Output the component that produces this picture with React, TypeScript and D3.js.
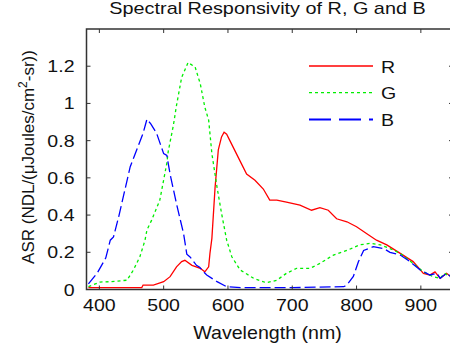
import React from "react";
import * as d3 from "d3";

const title = "Spectral Responsivity of R, G and B";
const xLabel = "Wavelength (nm)";
const xTicks = [400, 500, 600, 700, 800, 900];
const yTicks = [0, 0.2, 0.4, 0.6, 0.8, 1, 1.2];
const yTickLabels = ["0", "0.2", "0.4", "0.6", "0.8", "1", "1.2"];

const rWave = [383,400,420,440,460,466,468,484,500,510,520,528,533,544,557,564,570,572,575,580,585,590,594,598,603,616,629,642,655,665,676,691,712,730,743,756,769,785,800,816,831,847,868,888,904,914,922,930,940,950];
const rVals = [0.01,0.01,0.01,0.01,0.01,0.01,0.024,0.024,0.042,0.069,0.122,0.15,0.157,0.13,0.114,0.095,0.122,0.194,0.275,0.55,0.75,0.82,0.845,0.835,0.80,0.71,0.62,0.587,0.54,0.48,0.48,0.47,0.453,0.426,0.44,0.426,0.38,0.364,0.337,0.30,0.265,0.24,0.194,0.15,0.087,0.078,0.095,0.06,0.087,0.06];

const gWave = [383,401,417,443,453,463,471,474,481,494,505,507,515,520,528,538,549,557,564,570,575,583,590,598,606,619,640,660,676,691,707,728,743,764,785,805,821,837,852,868,888,904,919,930,937,945,950];
const gVals = [0.015,0.04,0.042,0.05,0.105,0.176,0.265,0.32,0.37,0.48,0.68,0.74,0.88,0.99,1.14,1.22,1.195,1.105,0.98,0.91,0.73,0.55,0.41,0.265,0.176,0.105,0.06,0.036,0.05,0.087,0.114,0.114,0.14,0.185,0.21,0.24,0.248,0.24,0.22,0.194,0.14,0.095,0.069,0.06,0.087,0.07,0.06];

const bWave = [383,397,410,417,422,430,440,448,458,468,474,480,489,495,500,505,510,520,531,536,541,551,556,562,567,583,598,620,700,780,785,795,803,811,826,842,852,868,883,899,914,925,930,940,950];
const bVals = [0.03,0.09,0.17,0.265,0.283,0.39,0.54,0.66,0.75,0.84,0.915,0.89,0.84,0.78,0.73,0.72,0.62,0.46,0.30,0.19,0.175,0.13,0.12,0.095,0.078,0.042,0.015,0.01,0.01,0.015,0.024,0.07,0.15,0.21,0.23,0.22,0.20,0.185,0.15,0.105,0.078,0.087,0.06,0.087,0.06];

const seriesNames = ["R", "G", "B"];
const seriesColors = ["#ff0000", "#00ee00", "#0000ff"];
const seriesDash = ["none", "3,3", "11,4"];

const W = 450, H = 354;
const x = d3.scaleLinear().domain([380, 950]).range([86.5, 453]);
const y = d3.scaleLinear().domain([0, 1.4]).range([289.5, 29]);

function SText({ x: tx, y: ty, sx = 1.15, size = 17, anchor = "start", children }: any) {
  return (
    <text
      transform={`translate(${tx},${ty}) scale(${sx},1)`}
      textAnchor={anchor}
      fontSize={size}
      fontFamily="Liberation Sans, Arial, sans-serif"
      fill="#111"
    >
      {children}
    </text>
  );
}

export default function App() {
  const line = d3
    .line<[number, number]>()
    .x((d) => x(d[0]))
    .y((d) => y(d[1]));
  const data = [
    d3.zip(rWave, rVals) as [number, number][],
    d3.zip(gWave, gVals) as [number, number][],
    d3.zip(bWave, bVals) as [number, number][],
  ];
  const x0 = x(380), x1 = x(950), yb = y(0), yt = y(1.4);
  const tl = 4;
  return (
    <svg width={W} height={H} style={{ position: "absolute", left: 0, top: 0, background: "#fff" }}>
      <rect width={W} height={H} fill="#fff" />
      <defs>
        <clipPath id="plot">
          <rect x={x0} y={yt} width={x1 - x0} height={yb - yt} />
        </clipPath>
      </defs>
      <SText x={267.5} y={14} sx={1.24} size={16} anchor="middle">{title}</SText>
      <g clipPath="url(#plot)">
        {data.map((d, i) => (
          <path
            key={i}
            d={line(d) || ""}
            fill="none"
            stroke={seriesColors[i]}
            strokeWidth={1.3}
            strokeDasharray={seriesDash[i]}
          />
        ))}
      </g>
      <rect x={x0} y={yt} width={x1 - x0} height={yb - yt} fill="none" stroke="#333" strokeWidth={1.5} />
      {xTicks.map((t) => (
        <g key={t}>
          <line x1={x(t)} x2={x(t)} y1={yb} y2={yb - tl} stroke="#333" strokeWidth={1} />
          <line x1={x(t)} x2={x(t)} y1={yt} y2={yt + tl} stroke="#333" strokeWidth={1} />
          <SText x={x(t)} y={310.7} anchor="middle">{String(t)}</SText>
        </g>
      ))}
      {yTicks.map((t, i) => (
        <g key={t}>
          <line x1={x0} x2={x0 + tl} y1={y(t)} y2={y(t)} stroke="#333" strokeWidth={1} />
          <line x1={x1} x2={x1 - tl} y1={y(t)} y2={y(t)} stroke="#333" strokeWidth={1} />
          <SText x={74.5} y={y(t) + 6} anchor="end">{yTickLabels[i]}</SText>
        </g>
      ))}
      <SText x={267.5} y={339} sx={1.09} size={18} anchor="middle">{xLabel}</SText>
      <text
        transform="translate(34,157) rotate(-90)"
        textAnchor="middle"
        fontSize={17}
        fontFamily="Liberation Sans, Arial, sans-serif"
        fill="#111"
      >
        ASR (NDL/(μJoules/cm
        <tspan fontSize={12} dy={-7}>2</tspan>
        <tspan dy={7}>-sr))</tspan>
      </text>
      {seriesNames.map((n, i) => {
        const ly = 66 + i * 26.7;
        return (
          <g key={n}>
            <line
              x1={309}
              x2={373}
              y1={ly}
              y2={ly}
              stroke={seriesColors[i]}
              strokeWidth={i === 2 ? 2 : 1.3}
              strokeDasharray={i === 2 ? "22,8" : seriesDash[i]}
            />
            <SText x={381} y={ly + 6.5}>{n}</SText>
          </g>
        );
      })}
    </svg>
  );
}
